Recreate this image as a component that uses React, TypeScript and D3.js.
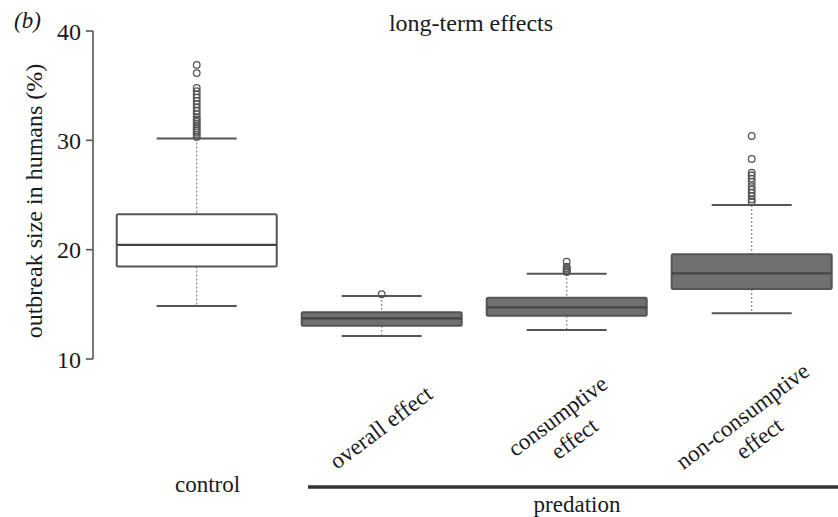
import React from "react";
import * as d3 from "d3";

const categories = ["control", "overall effect", "consumptive effect", "non-consumptive effect"];
const labelLines = [[], ["overall effect"], ["consumptive", "effect"], ["non-consumptive", "effect"]];
const q1 = [18.45, 13.05, 13.96, 16.4];
const medians = [20.43, 13.72, 14.73, 17.84];
const q3 = [23.24, 14.27, 15.61, 19.58];
const whiskerLow = [14.85, 12.1, 12.65, 14.18];
const whiskerHigh = [30.16, 15.76, 17.8, 24.09];
const outliers = [
  [30.3, 30.5, 30.7, 30.9, 31.1, 31.3, 31.5, 31.7, 31.9, 32.1, 32.4, 32.7, 33.0, 33.3, 33.6, 33.9, 34.2, 34.5, 34.8, 36.15, 36.9],
  [15.92],
  [17.95, 18.05, 18.15, 18.3, 18.45, 18.9],
  [24.4, 24.6, 24.9, 25.2, 25.5, 25.8, 26.2, 26.5, 26.8, 27.05, 28.3, 30.4],
];
const fills = ["#ffffff", "#707070", "#707070", "#707070"];
const yTicks = [10, 20, 30, 40];

const FONT = "'Liberation Serif', 'Times New Roman', serif";
const TXT = "#1a1a1a";

export default function App() {
  const y = d3.scaleLinear().domain([10, 40]).range([359, 31]);
  const x = d3
    .scaleBand<string>()
    .domain(categories)
    .range([104.2, 844.2])
    .paddingInner(0.1351)
    .paddingOuter(0.0676);
  const bw = x.bandwidth();
  const lh = 28;

  return (
    <svg
      width={838}
      height={517}
      style={{ position: "absolute", left: 0, top: 0, display: "block", background: "#fff" }}
      fontFamily={FONT}
    >
      {/* panel label */}
      <text x={14} y={28} fontSize={23} fontStyle="italic" fill={TXT}>(b)</text>
      {/* title */}
      <text x={471} y={31} fontSize={24} textAnchor="middle" fill={TXT}>long-term effects</text>

      {/* y axis */}
      <line x1={93} x2={93} y1={y(40)} y2={y(10)} stroke="#555" strokeWidth={1.6} />
      {yTicks.map((t) => (
        <g key={t}>
          <line x1={86} x2={93} y1={y(t)} y2={y(t)} stroke="#555" strokeWidth={1.6} />
          <text x={81} y={y(t)} dy="0.36em" fontSize={24} textAnchor="end" fill={TXT}>
            {t}
          </text>
        </g>
      ))}
      <text
        transform={`translate(34,${(y(40) + y(10)) / 2 + 6}) rotate(-90)`}
        fontSize={24}
        textAnchor="middle"
        dy="0.35em"
        fill={TXT}
      >
        outbreak size in humans (%)
      </text>

      {/* boxes */}
      {categories.map((c, i) => {
        const x0 = x(c)!;
        const cx = x0 + bw / 2;
        const capW = bw / 2;
        return (
          <g key={c}>
            <line x1={cx} x2={cx} y1={y(whiskerHigh[i])} y2={y(q3[i])} stroke="#888" strokeWidth={1.2} strokeDasharray="2,2" />
            <line x1={cx} x2={cx} y1={y(q1[i])} y2={y(whiskerLow[i])} stroke="#888" strokeWidth={1.2} strokeDasharray="2,2" />
            <line x1={cx - capW / 2} x2={cx + capW / 2} y1={y(whiskerHigh[i])} y2={y(whiskerHigh[i])} stroke="#555" strokeWidth={2} />
            <line x1={cx - capW / 2} x2={cx + capW / 2} y1={y(whiskerLow[i])} y2={y(whiskerLow[i])} stroke="#555" strokeWidth={2} />
            <rect
              x={x0}
              y={y(q3[i])}
              width={bw}
              height={y(q1[i]) - y(q3[i])}
              fill={fills[i]}
              stroke="#555"
              strokeWidth={2}
              rx={1.5}
            />
            <line x1={x0} x2={x0 + bw} y1={y(medians[i])} y2={y(medians[i])} stroke="#444" strokeWidth={2.2} />
            {outliers[i].map((v, j) => (
              <circle key={j} cx={cx} cy={y(v)} r={3.3} fill="none" stroke="#555" strokeWidth={1.3} />
            ))}
            {labelLines[i].length > 0 && (
              <text
                transform={`translate(${cx - 1},427) rotate(-37)`}
                fontSize={23}
                textAnchor="middle"
                fill={TXT}
              >
                {labelLines[i].map((l, k) => (
                  <tspan
                    key={k}
                    x={0}
                    y={(k - (labelLines[i].length - 1) / 2) * lh}
                    dy="0.35em"
                  >
                    {l}
                  </tspan>
                ))}
              </text>
            )}
          </g>
        );
      })}

      {/* group labels */}
      <text x={207.5} y={492} fontSize={23} textAnchor="middle" fill={TXT}>control</text>
      <line x1={308} x2={838} y1={487} y2={487} stroke="#333" strokeWidth={3.5} />
      <text x={577} y={512} fontSize={23} textAnchor="middle" fill={TXT}>predation</text>
    </svg>
  );
}
